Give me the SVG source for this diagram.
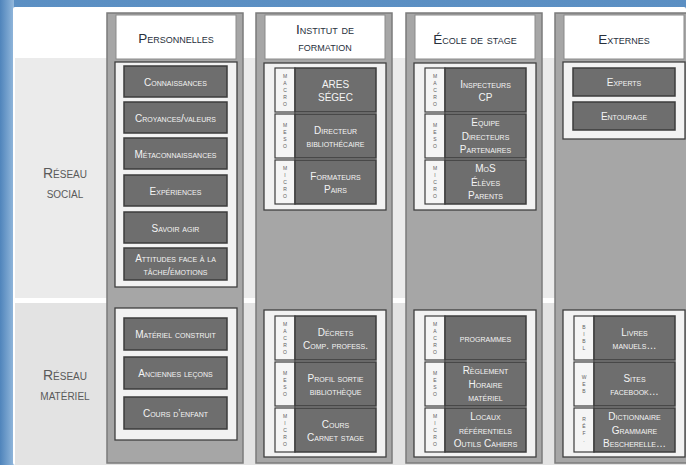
<svg xmlns="http://www.w3.org/2000/svg" width="686" height="465" viewBox="0 0 686 465">
  <defs>
    <linearGradient id="frameLeft" x1="0" y1="0" x2="1" y2="0">
      <stop offset="0" stop-color="#4f84bb"/>
      <stop offset="1" stop-color="#93b8dc"/>
    </linearGradient>
    <linearGradient id="frameTop" x1="0" y1="0" x2="0" y2="1">
      <stop offset="0" stop-color="#5b8fc3"/>
      <stop offset="1" stop-color="#8ab1d8"/>
    </linearGradient>
    <style>
      .col { fill: #a6a6a6; stroke: #7b7b7b; stroke-width: 1.5; }
      .hdr { fill: #ffffff; stroke: #8a8a8a; stroke-width: 1; }
      .panel { fill: #f2f2f2; stroke: #3f3f3f; stroke-width: 1.3; }
      .item { fill: #6e6e6e; stroke: #3c3c3c; stroke-width: 1.5; }
      .strip { fill: #f5f5f5; stroke: #3c3c3c; stroke-width: 1.2; }
      text { font-family: "Liberation Sans", Arial, sans-serif; font-variant: small-caps; text-anchor: middle; }
      .t { font-size: 10px; fill: #f4f4f4; }
      .h { font-size: 13.5px; fill: #27303c; }
      .rl { font-size: 14px; fill: #5a5a5a; }
      .lv { font-size: 5px; fill: #606060; font-variant: normal; }
    </style>
  </defs>

  <!-- frame and background -->
  <rect x="0" y="0" width="686" height="465" fill="url(#frameTop)"/>
  <rect x="0" y="0" width="14" height="465" fill="url(#frameLeft)"/>
  <rect x="13" y="7" width="673" height="458" rx="2" fill="#ffffff"/>

  <!-- row bands -->
  <rect x="15" y="58" width="671" height="240" fill="#ebebeb"/>
  <rect x="15" y="303" width="671" height="162" fill="#e3e3e3"/>

  <g id="row-labels">
    <text class="rl" x="65" y="178">Réseau</text>
    <text class="rl" x="65" y="198">social</text>
    <text class="rl" x="65" y="380">Réseau</text>
    <text class="rl" x="65" y="400">matériel</text>
  </g>

  <!-- Column: Personnelles -->
  <g id="col-personnelles">
    <rect class="col" x="107" y="13" width="136" height="450"/>
    <rect class="hdr" x="116" y="15" width="120" height="44"/>
    <text class="h" x="176" y="43">Personnelles</text>

    <rect class="panel" x="115" y="62" width="122" height="225"/>
    <rect class="item" x="124" y="66" width="103" height="31"/>
    <text class="t" x="175.5" y="85.5">Connaissances</text>
    <rect class="item" x="124" y="102" width="103" height="31"/>
    <text class="t" x="175.5" y="121.5">Croyances/valeurs</text>
    <rect class="item" x="124" y="138" width="103" height="31"/>
    <text class="t" x="175.5" y="157.5">Métaconnaissances</text>
    <rect class="item" x="124" y="175" width="103" height="31"/>
    <text class="t" x="175.5" y="194.5">Expériences</text>
    <rect class="item" x="124" y="212" width="103" height="31"/>
    <text class="t" x="175.5" y="231.5">Savoir agir</text>
    <rect class="item" x="124" y="248" width="103" height="32"/>
    <text class="t" x="175.5" y="261.5">Attitudes face à la</text>
    <text class="t" x="175.5" y="274.5">tâche/émotions</text>

    <rect class="panel" x="115" y="308" width="122" height="132"/>
    <rect class="item" x="124" y="318" width="103" height="32"/>
    <text class="t" x="175.5" y="338">Matériel construit</text>
    <rect class="item" x="124" y="357" width="103" height="32"/>
    <text class="t" x="175.5" y="377">Anciennes leçons</text>
    <rect class="item" x="124" y="397" width="103" height="32"/>
    <text class="t" x="175.5" y="417">Cours d’enfant</text>
  </g>

  <!-- Column: Institut de formation -->
  <g id="col-institut">
    <rect class="col" x="256" y="13" width="136" height="450"/>
    <rect class="hdr" x="265" y="15" width="120" height="44"/>
    <text class="h" x="325" y="34">Institut de</text>
    <text class="h" x="325" y="51">formation</text>

    <rect class="panel" x="264" y="63" width="122" height="147"/>
    <rect class="strip" x="275" y="68" width="20" height="44"/>
    <rect class="item" x="295" y="68" width="81" height="44"/>
    <text class="lv" x="285" y="77.5"><tspan x="285">M</tspan><tspan x="285" dy="7">A</tspan><tspan x="285" dy="7">C</tspan><tspan x="285" dy="7">R</tspan><tspan x="285" dy="7">O</tspan></text>
    <text class="t" x="335.5" y="87.5">ARES</text>
    <text class="t" x="335.5" y="101">SÉGEC</text>
    <rect class="strip" x="275" y="114" width="20" height="44"/>
    <rect class="item" x="295" y="114" width="81" height="44"/>
    <text class="lv" x="285" y="127"><tspan x="285">M</tspan><tspan x="285" dy="7">E</tspan><tspan x="285" dy="7">S</tspan><tspan x="285" dy="7">O</tspan></text>
    <text class="t" x="335.5" y="133.5">Directeur</text>
    <text class="t" x="335.5" y="147">bibliothécaire</text>
    <rect class="strip" x="275" y="160" width="20" height="44"/>
    <rect class="item" x="295" y="160" width="81" height="44"/>
    <text class="lv" x="285" y="169.5"><tspan x="285">M</tspan><tspan x="285" dy="7">I</tspan><tspan x="285" dy="7">C</tspan><tspan x="285" dy="7">R</tspan><tspan x="285" dy="7">O</tspan></text>
    <text class="t" x="335.5" y="179.5">Formateurs</text>
    <text class="t" x="335.5" y="193">Pairs</text>

    <rect class="panel" x="264" y="310" width="122" height="147"/>
    <rect class="strip" x="275" y="316" width="20" height="44"/>
    <rect class="item" x="295" y="316" width="81" height="44"/>
    <text class="lv" x="285" y="325.5"><tspan x="285">M</tspan><tspan x="285" dy="7">A</tspan><tspan x="285" dy="7">C</tspan><tspan x="285" dy="7">R</tspan><tspan x="285" dy="7">O</tspan></text>
    <text class="t" x="335.5" y="335.5">Décrets</text>
    <text class="t" x="335.5" y="349">Comp. profess.</text>
    <rect class="strip" x="275" y="362" width="20" height="44"/>
    <rect class="item" x="295" y="362" width="81" height="44"/>
    <text class="lv" x="285" y="375"><tspan x="285">M</tspan><tspan x="285" dy="7">E</tspan><tspan x="285" dy="7">S</tspan><tspan x="285" dy="7">O</tspan></text>
    <text class="t" x="335.5" y="381.5">Profil sortie</text>
    <text class="t" x="335.5" y="395">bibliothèque</text>
    <rect class="strip" x="275" y="408" width="20" height="44"/>
    <rect class="item" x="295" y="408" width="81" height="44"/>
    <text class="lv" x="285" y="417.5"><tspan x="285">M</tspan><tspan x="285" dy="7">I</tspan><tspan x="285" dy="7">C</tspan><tspan x="285" dy="7">R</tspan><tspan x="285" dy="7">O</tspan></text>
    <text class="t" x="335.5" y="427.5">Cours</text>
    <text class="t" x="335.5" y="441">Carnet stage</text>
  </g>

  <!-- Column: École de stage -->
  <g id="col-ecole">
    <rect class="col" x="406" y="13" width="136" height="450"/>
    <rect class="hdr" x="415" y="15" width="120" height="44"/>
    <text class="h" x="475" y="44">École de stage</text>

    <rect class="panel" x="414" y="63" width="122" height="147"/>
    <rect class="strip" x="425" y="68" width="20" height="44"/>
    <rect class="item" x="445" y="68" width="81" height="44"/>
    <text class="lv" x="435" y="77.5"><tspan x="435">M</tspan><tspan x="435" dy="7">A</tspan><tspan x="435" dy="7">C</tspan><tspan x="435" dy="7">R</tspan><tspan x="435" dy="7">O</tspan></text>
    <text class="t" x="485.5" y="87.5">Inspecteurs</text>
    <text class="t" x="485.5" y="101">CP</text>
    <rect class="strip" x="425" y="114" width="20" height="44"/>
    <rect class="item" x="445" y="114" width="81" height="44"/>
    <text class="lv" x="435" y="127"><tspan x="435">M</tspan><tspan x="435" dy="7">E</tspan><tspan x="435" dy="7">S</tspan><tspan x="435" dy="7">O</tspan></text>
    <text class="t" x="485.5" y="126.3">Equipe</text>
    <text class="t" x="485.5" y="139.8">Directeurs</text>
    <text class="t" x="485.5" y="153.3">Partenaires</text>
    <rect class="strip" x="425" y="160" width="20" height="44"/>
    <rect class="item" x="445" y="160" width="81" height="44"/>
    <text class="lv" x="435" y="169.5"><tspan x="435">M</tspan><tspan x="435" dy="7">I</tspan><tspan x="435" dy="7">C</tspan><tspan x="435" dy="7">R</tspan><tspan x="435" dy="7">O</tspan></text>
    <text class="t" x="485.5" y="172.3">MoS</text>
    <text class="t" x="485.5" y="185.8">Élèves</text>
    <text class="t" x="485.5" y="199.3">Parents</text>

    <rect class="panel" x="414" y="310" width="122" height="147"/>
    <rect class="strip" x="425" y="316" width="20" height="44"/>
    <rect class="item" x="445" y="316" width="81" height="44"/>
    <text class="lv" x="435" y="325.5"><tspan x="435">M</tspan><tspan x="435" dy="7">A</tspan><tspan x="435" dy="7">C</tspan><tspan x="435" dy="7">R</tspan><tspan x="435" dy="7">O</tspan></text>
    <text class="t" x="485.5" y="341.8">programmes</text>
    <rect class="strip" x="425" y="362" width="20" height="44"/>
    <rect class="item" x="445" y="362" width="81" height="44"/>
    <text class="lv" x="435" y="375"><tspan x="435">M</tspan><tspan x="435" dy="7">E</tspan><tspan x="435" dy="7">S</tspan><tspan x="435" dy="7">O</tspan></text>
    <text class="t" x="485.5" y="374.3">Règlement</text>
    <text class="t" x="485.5" y="387.8">Horaire</text>
    <text class="t" x="485.5" y="401.3">matériel</text>
    <rect class="strip" x="425" y="408" width="20" height="44"/>
    <rect class="item" x="445" y="408" width="81" height="44"/>
    <text class="lv" x="435" y="417.5"><tspan x="435">M</tspan><tspan x="435" dy="7">I</tspan><tspan x="435" dy="7">C</tspan><tspan x="435" dy="7">R</tspan><tspan x="435" dy="7">O</tspan></text>
    <text class="t" x="485.5" y="420.3">Locaux</text>
    <text class="t" x="485.5" y="433.8">référentiels</text>
    <text class="t" x="485.5" y="447.3">Outils Cahiers</text>
  </g>

  <!-- Column: Externes -->
  <g id="col-externes">
    <rect class="col" x="555" y="13" width="136" height="450"/>
    <rect class="hdr" x="564" y="15" width="120" height="44"/>
    <text class="h" x="624" y="44">Externes</text>

    <rect class="panel" x="563" y="62" width="122" height="77"/>
    <rect class="item" x="573" y="68" width="102" height="28"/>
    <text class="t" x="624" y="85.8">Experts</text>
    <rect class="item" x="573" y="102" width="102" height="28"/>
    <text class="t" x="624" y="119.8">Entourage</text>

    <rect class="panel" x="563" y="310" width="122" height="147"/>
    <rect class="strip" x="574" y="316" width="20" height="44"/>
    <rect class="item" x="594" y="316" width="81" height="44"/>
    <text class="lv" x="584" y="329"><tspan x="584">B</tspan><tspan x="584" dy="7">I</tspan><tspan x="584" dy="7">B</tspan><tspan x="584" dy="7">L</tspan></text>
    <text class="t" x="634.5" y="335.5">Livres</text>
    <text class="t" x="634.5" y="349">manuels…</text>
    <rect class="strip" x="574" y="362" width="20" height="44"/>
    <rect class="item" x="594" y="362" width="81" height="44"/>
    <text class="lv" x="584" y="378.5"><tspan x="584">W</tspan><tspan x="584" dy="7">E</tspan><tspan x="584" dy="7">B</tspan></text>
    <text class="t" x="634.5" y="381.5">Sites</text>
    <text class="t" x="634.5" y="395">facebook…</text>
    <rect class="strip" x="574" y="408" width="20" height="44"/>
    <rect class="item" x="594" y="408" width="81" height="44"/>
    <text class="lv" x="584" y="421"><tspan x="584">R</tspan><tspan x="584" dy="7">É</tspan><tspan x="584" dy="7">F</tspan><tspan x="584" dy="7">.</tspan></text>
    <text class="t" x="634.5" y="420.3">Dictionnaire</text>
    <text class="t" x="634.5" y="433.8">Grammaire</text>
    <text class="t" x="634.5" y="447.3">Bescherelle…</text>
  </g>
</svg>
